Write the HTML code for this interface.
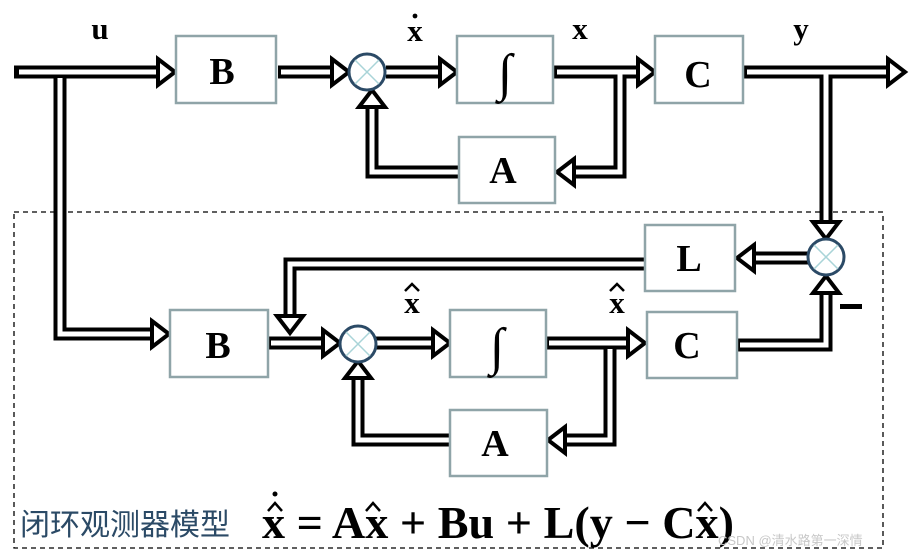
<!DOCTYPE html>
<html><head><meta charset="utf-8"><style>
html,body{margin:0;padding:0;background:#fff;}
svg{display:block;}
.b{fill:none;stroke:#000;stroke-width:13;stroke-linejoin:miter;stroke-linecap:butt}
.w{fill:none;stroke:#fff;stroke-width:5;stroke-linejoin:miter;stroke-linecap:butt}
.h{fill:#fff;stroke:#000;stroke-width:4;stroke-linejoin:miter}
.box{fill:#fff;stroke:#8fa4a8;stroke-width:2.5}
.t{font-family:"Liberation Serif",serif;font-weight:bold;fill:#000}
.sum{fill:#fff;stroke:#2b4a66;stroke-width:3}
.x{stroke:#a9d4d8;stroke-width:1.5}
.hat{fill:none;stroke:#000;stroke-width:2.5}
</style></head><body>
<svg width="910" height="556" viewBox="0 0 910 556">
<rect x="14" y="212" width="869" height="336" fill="none" stroke="#000" stroke-width="1.3" stroke-dasharray="5,4"/>
<path class="b" d="M14 72 H160 M278 72 H334 M386 72 H442 M554 72 H640 M744 72 H890 M620 72 V172 H572 M459 172 H372 V106 M60 72 V334 H154 M826 72 V224 M808 258 H752 M645 264 H290 V318 M268 343 H325 M376 343 H435 M546 343 H630 M610 343 V440 H563 M450 440 H358 V377 M737 345 H826 V292"/>
<path class="w" d="M19 72 H160 M281 72 H334 M386 72 H442 M557 72 H640 M747 72 H890 M620 72 V172 H572 M459 172 H372 V106 M60 78 V334 H154 M826 72 V224 M808 258 H752 M645 264 H290 V318 M271 343 H325 M376 343 H435 M549 343 H630 M610 349 V440 H563 M450 440 H358 V377 M740 345 H826 V292"/>
<g class="h">
<polygon points="158,59 175,72 158,85"/>
<polygon points="332,59 349,72 332,85"/>
<polygon points="440,59 457,72 440,85"/>
<polygon points="638,59 655,72 638,85"/>
<polygon points="888,59 905,72 888,85"/>
<polygon points="574,159 557,172 574,185"/>
<polygon points="359,107 372,90 385,107"/>
<polygon points="152,321 169,334 152,347"/>
<polygon points="813,222 826,239 839,222"/>
<polygon points="754,245 737,258 754,271"/>
<polygon points="277,316 290,333 303,316"/>
<polygon points="323,330 340,343 323,356"/>
<polygon points="433,330 450,343 433,356"/>
<polygon points="628,330 645,343 628,356"/>
<polygon points="565,427 548,440 565,453"/>
<polygon points="345,378 358,361 371,378"/>
<polygon points="813,293 826,276 839,293"/>
</g>
<rect class="box" x="176" y="36" width="100" height="67"/>
<rect class="box" x="457" y="36" width="96" height="67"/>
<rect class="box" x="655" y="36" width="88" height="67"/>
<rect class="box" x="459" y="137" width="96" height="66"/>
<rect class="box" x="645" y="225" width="90" height="66"/>
<rect class="box" x="170" y="310" width="98" height="67"/>
<rect class="box" x="450" y="310" width="96" height="67"/>
<rect class="box" x="647" y="312" width="90" height="66"/>
<rect class="box" x="450" y="410" width="97" height="66"/>
<g><circle class="sum" cx="367" cy="72" r="18"/><path class="x" d="M355 60 L379 84 M379 60 L355 84"/>
<circle class="sum" cx="826" cy="257" r="18"/><path class="x" d="M814 245 L838 269 M838 245 L814 269"/>
<circle class="sum" cx="358" cy="344" r="18"/><path class="x" d="M346 332 L370 356 M370 332 L346 356"/></g>
<g class="t" font-size="38" text-anchor="middle">
<text x="222" y="84">B</text>
<text x="698" y="87">C</text><text x="503" y="183">A</text><text x="689" y="271">L</text>
<text x="218" y="358">B</text>
<text x="687" y="358">C</text><text x="495" y="456">A</text>
</g>
<g font-family="'Liberation Serif','DejaVu Serif',serif" font-size="52" text-anchor="middle" fill="#000">
<text x="505" y="90">∫</text><text x="497" y="364">∫</text>
</g>
<g class="t" font-size="31" text-anchor="middle">
<text x="100" y="39">u</text><text x="415" y="41">x</text>
<text x="580" y="39">x</text><text x="801" y="39">y</text>
<text x="412" y="313">x</text>
<text x="617" y="313">x</text>
</g>
<circle cx="415" cy="16" r="2.4" fill="#000"/>
<path class="hat" d="M405 291 L412 284 L419 291 M610 291 L617 284 L624 291"/>
<rect x="840" y="304" width="22" height="5" fill="#000"/>
<text x="20" y="535" font-family="'Liberation Sans','Noto Sans CJK SC',sans-serif" font-size="30" fill="#2b4a66">闭环观测器模型</text>
<text x="262" y="538" class="t" font-size="46" textLength="472" lengthAdjust="spacingAndGlyphs">x = Ax + Bu + L(y − Cx)</text>
<path class="hat" d="M268 511 L275 503 L282 511 M366 511 L373 503 L380 511 M698 511 L705 503 L712 511"/>
<circle cx="275" cy="494" r="2.5" fill="#000"/>
<text x="718" y="545" font-family="'Liberation Sans','Noto Sans CJK SC',sans-serif" font-size="13" fill="#c8c8c8">CSDN @清水路第一深情</text>
</svg>
</body></html>
